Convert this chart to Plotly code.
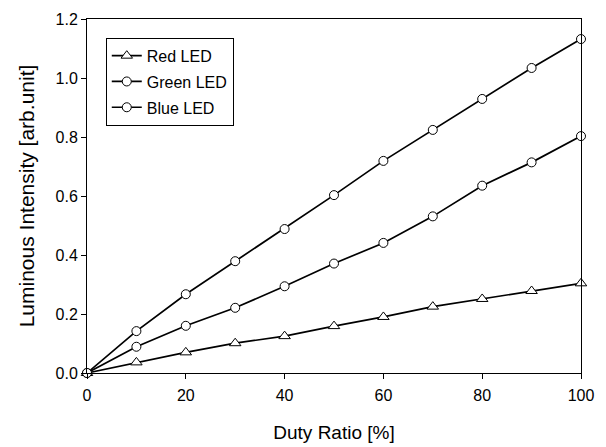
import plotly.graph_objects as go

duty = [0, 10, 20, 30, 40, 50, 60, 70, 80, 90, 100]
red_led = [0.0, 0.036, 0.070, 0.101, 0.125, 0.159, 0.190, 0.225, 0.251, 0.278, 0.304]
green_led = [0.0, 0.089, 0.160, 0.221, 0.294, 0.371, 0.441, 0.531, 0.635, 0.714, 0.803]
blue_led = [0.0, 0.142, 0.267, 0.379, 0.488, 0.603, 0.719, 0.824, 0.929, 1.034, 1.132]

x_ticks = [0, 20, 40, 60, 80, 100]
y_ticks = [0.0, 0.2, 0.4, 0.6, 0.8, 1.0, 1.2]
y_ticklabels = ["0.0", "0.2", "0.4", "0.6", "0.8", "1.0", "1.2"]

fig = go.Figure()
series = [("Red LED", red_led, "triangle-up", 10), ("Green LED", green_led, "circle", 9), ("Blue LED", blue_led, "circle", 9)]
for name, vals, sym, sz in series:
    fig.add_trace(go.Scatter(
        x=duty, y=vals, name=name, mode="lines+markers", legendgroup=name,
        line=dict(color="black", width=1.7),
        marker=dict(symbol=sym, size=sz, color="white",
                    line=dict(color="black", width=1)),
        cliponaxis=False,
    ))

fig.update_layout(
    width=598, height=439,
    margin=dict(l=79, r=25, t=11, b=74),
    paper_bgcolor="white", plot_bgcolor="white",
    font=dict(family="Liberation Sans, Arial, sans-serif", color="black", size=16),
    showlegend=True,
    legend=dict(x=0.038, y=0.947, xanchor="left", yanchor="top",
                bordercolor="black", borderwidth=1, bgcolor="white",
                font=dict(size=16), tracegroupgap=2),
    xaxis=dict(range=[0, 100], tickvals=x_ticks, ticks="outside", ticklen=5,
               tickcolor="black", showline=True, linecolor="black", linewidth=1,
               mirror=True, showgrid=False, zeroline=False, ticklabelstandoff=3,
               automargin=False,
               title=dict(text="Duty Ratio [%]", font=dict(size=19), standoff=22),
               tickfont=dict(size=16)),
    yaxis=dict(range=[0, 1.2], tickvals=y_ticks, ticktext=y_ticklabels, ticks="outside",
               ticklen=5, tickcolor="black", showline=True, linecolor="black", linewidth=1,
               mirror=True, showgrid=False, zeroline=False, automargin=False,
               title=dict(text="Luminous Intensity [arb.unit]", font=dict(size=21), standoff=15),
               tickfont=dict(size=16)),
)

fig.write_html("out.html")
